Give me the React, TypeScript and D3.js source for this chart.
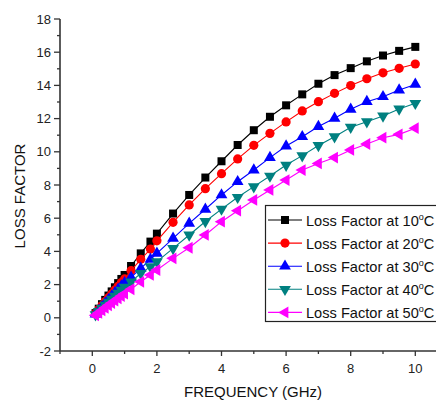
import React from "react";
import * as d3 from "d3";

const freq = [0.1,0.2,0.3,0.4,0.5,0.6,0.7,0.8,0.9,1.0,1.2,1.5,1.8,2.0,2.5,3.0,3.5,4.0,4.5,5.0,5.5,6.0,6.5,7.0,7.5,8.0,8.5,9.0,9.5,10.0];
const lf10 = [0.28,0.55,0.82,1.08,1.34,1.59,1.84,2.09,2.34,2.58,3.12,3.88,4.59,5.07,6.28,7.40,8.45,9.43,10.41,11.30,12.11,12.80,13.46,14.10,14.62,15.04,15.45,15.80,16.08,16.32];
const lf20 = [0.25,0.50,0.74,0.98,1.21,1.44,1.67,1.90,2.12,2.34,2.84,3.52,4.14,4.64,5.75,6.80,7.78,8.68,9.57,10.39,11.11,11.80,12.46,13.02,13.52,13.99,14.40,14.76,15.03,15.29];
const lf30 = [0.22,0.44,0.66,0.88,1.09,1.30,1.51,1.71,1.91,2.11,2.44,2.98,3.52,3.88,4.79,5.69,6.54,7.40,8.20,8.90,9.65,10.35,10.91,11.52,12.02,12.56,13.02,13.32,13.72,14.06];
const lf40 = [0.19,0.38,0.57,0.76,0.95,1.13,1.31,1.49,1.67,1.85,2.17,2.68,3.08,3.38,4.18,4.99,5.80,6.55,7.26,7.90,8.54,9.20,9.77,10.38,10.91,11.48,11.81,12.16,12.58,12.92];
const lf50 = [0.15,0.30,0.45,0.60,0.75,0.89,1.03,1.17,1.31,1.45,1.72,2.17,2.58,2.88,3.58,4.22,4.99,5.79,6.45,7.10,7.70,8.30,8.90,9.30,9.65,10.11,10.47,10.85,11.05,11.42];

const temps = ["10", "20", "30", "40", "50"];
const colors = ["#000000", "#ff0000", "#0000ff", "#008080", "#ff00ff"];
const markers = ["square", "circle", "up", "down", "left"];
const seriesValues = [lf10, lf20, lf30, lf40, lf50];

const xTicks = [0, 2, 4, 6, 8, 10];
const xMinor = [-1, 1, 3, 5, 7, 9, 11];
const yTicks = [-2, 0, 2, 4, 6, 8, 10, 12, 14, 16, 18];
const yMinor = [-1, 1, 3, 5, 7, 9, 11, 13, 15, 17];

const W = 436, H = 400;
const x = d3.scaleLinear().domain([-1, 11]).range([60, 447.6]);
const y = d3.scaleLinear().domain([-2, 18]).range([351, 19]);

function Marker({ type, cx, cy, color }: { type: string; cx: number; cy: number; color: string }) {
  if (type === "square") return <rect x={cx - 4} y={cy - 4} width={8} height={8} fill={color} />;
  if (type === "circle") return <circle cx={cx} cy={cy} r={4.6} fill={color} />;
  const tri = d3.symbol().type(d3.symbolTriangle).size(60)() as string;
  const rot = type === "up" ? 0 : type === "down" ? 180 : -90;
  return <path d={tri} transform={`translate(${cx},${cy}) rotate(${rot})`} fill={color} />;
}

export default function App() {
  const line = d3.line<number>().x((_, i) => x(freq[i])).y((v) => y(v));
  const font = "'Liberation Sans', Arial, sans-serif";
  const axisColor = "#333";
  const legendY0 = 220, legendDy = 23.1;
  return (
    <svg width={W} height={H} style={{ position: "absolute", left: 0, top: 0 }} fontFamily={font}>
      <rect x={0} y={0} width={W} height={H} fill="#fff" />
      {seriesValues.map((vals, s) => (
        <g key={s}>
          <path d={line(vals) as string} fill="none" stroke={colors[s]} strokeWidth={1.1} />
          {vals.map((v, i) => (
            <Marker key={i} type={markers[s]} cx={x(freq[i])} cy={y(v)} color={colors[s]} />
          ))}
        </g>
      ))}
      <line x1={x(-1)} x2={W} y1={y(-2)} y2={y(-2)} stroke={axisColor} strokeWidth={1.6} />
      <line x1={x(-1)} x2={x(-1)} y1={y(-2)} y2={y(18)} stroke={axisColor} strokeWidth={1.6} />
      {yTicks.map((t) => (
        <g key={"y" + t}>
          <line x1={x(-1) - 6} x2={x(-1)} y1={y(t)} y2={y(t)} stroke={axisColor} strokeWidth={1.3} />
          <text x={x(-1) - 9} y={y(t)} dy="0.36em" textAnchor="end" fontSize={13} fill="#222">{t}</text>
        </g>
      ))}
      {yMinor.map((t) => (
        <line key={"ym" + t} x1={x(-1) - 3} x2={x(-1)} y1={y(t)} y2={y(t)} stroke={axisColor} strokeWidth={1.3} />
      ))}
      {xTicks.map((t) => (
        <g key={"x" + t}>
          <line x1={x(t)} x2={x(t)} y1={y(-2)} y2={y(-2) + 5} stroke={axisColor} strokeWidth={1.3} />
          <text x={x(t)} y={y(-2) + 22} textAnchor="middle" fontSize={13} fill="#222">{t}</text>
        </g>
      ))}
      {xMinor.map((t) => (
        <line key={"xm" + t} x1={x(t)} x2={x(t)} y1={y(-2)} y2={y(-2) + 3} stroke={axisColor} strokeWidth={1.3} />
      ))}
      <text x={253} y={397} textAnchor="middle" fontSize={15} fill="#111">FREQUENCY (GHz)</text>
      <text transform="translate(25,196) rotate(-90)" textAnchor="middle" fontSize={15} fill="#111">LOSS FACTOR</text>
      <rect x={265.5} y={205.5} width={200} height={116} fill="#fff" stroke="#222" strokeWidth={1.2} />
      {temps.map((t, i) => {
        const ly = legendY0 + i * legendDy;
        return (
          <g key={"l" + t}>
            <line x1={268} x2={302} y1={ly} y2={ly} stroke={colors[i]} strokeWidth={1.1} />
            <Marker type={markers[i]} cx={285} cy={ly} color={colors[i]} />
            <text x={306} y={ly + 5.5} fontSize={14.6} fill="#111">
              Loss Factor at {t}
              <tspan dy={-6} fontSize={9}>o</tspan>
              <tspan dy={6}>C</tspan>
            </text>
          </g>
        );
      })}
    </svg>
  );
}
